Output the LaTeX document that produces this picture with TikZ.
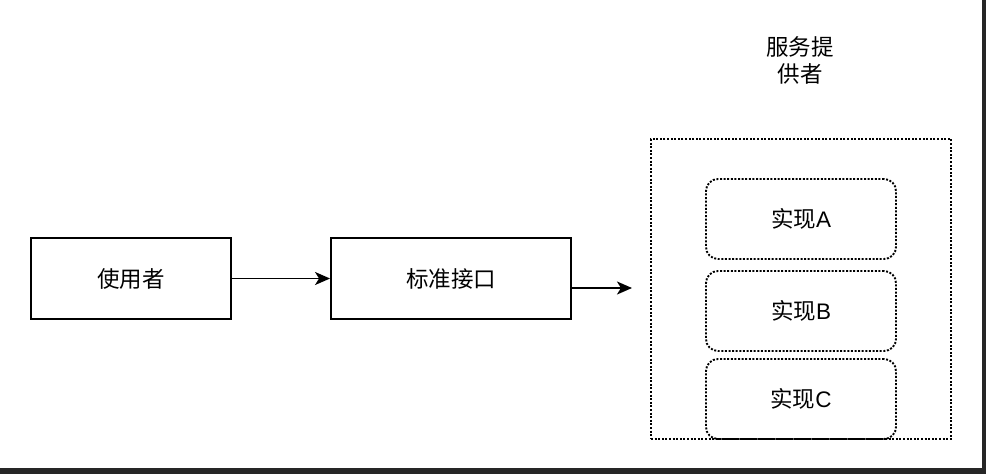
\documentclass[tikz,border=0pt]{standalone}
\usepackage{fontspec}
\setmainfont{Liberation Sans}
\newfontfamily\cjk{Noto Sans CJK SC}
\usetikzlibrary{arrows.meta}
\begin{document}
\begin{tikzpicture}[x=1pt,y=-1pt,
  txt/.style={font=\fontsize{22.5}{28}\selectfont},
  box/.style={txt,draw=black,line width=1.9pt,minimum width=200pt,minimum height=81pt,inner sep=0pt},
  impl/.style={txt,draw=black,line width=1.9pt,dash pattern=on 2pt off 1.6pt,rounded corners=12pt,minimum width=190pt,minimum height=80pt,inner sep=0pt},
  arr/.style={line width=1.9pt,-{Stealth[length=15pt,width=13pt,inset=4pt]}},
  lbl/.style={align=center,font=\fontsize{22.5}{27}\selectfont}]
\useasboundingbox (0,0) rectangle (986,474);
\fill[white] (0,0) rectangle (986,474);
% screenshot frame edges
\fill[black!85] (982,0) rectangle (986,474);
\fill[black!85] (0,468) rectangle (986,474);
% main nodes
\node[box] (user) at (131,278.5) {\cjk 使用者};
\node[box,minimum width=240pt] (api) at (451,278.5) {\cjk 标准接口};
% provider container
\node[draw=black,line width=1.9pt,dash pattern=on 2pt off 1.6pt,minimum width=300pt,minimum height=300pt,inner sep=0pt] (prov) at (801,289) {};
\node[lbl] (provlbl) at (800,60) {\cjk 服务提\\\cjk 供者};
\node[impl] (a) at (801,219) {{\cjk 实现}A};
\node[impl] (b) at (801,311) {{\cjk 实现}B};
\node[impl] (c) at (801,399) {{\cjk 实现}C};
\coordinate (tip) at (632,288);
\draw[arr] (user.east) -- (api.west);
\draw[arr] (api.east |- tip) -- (tip);
\end{tikzpicture}
\end{document}
